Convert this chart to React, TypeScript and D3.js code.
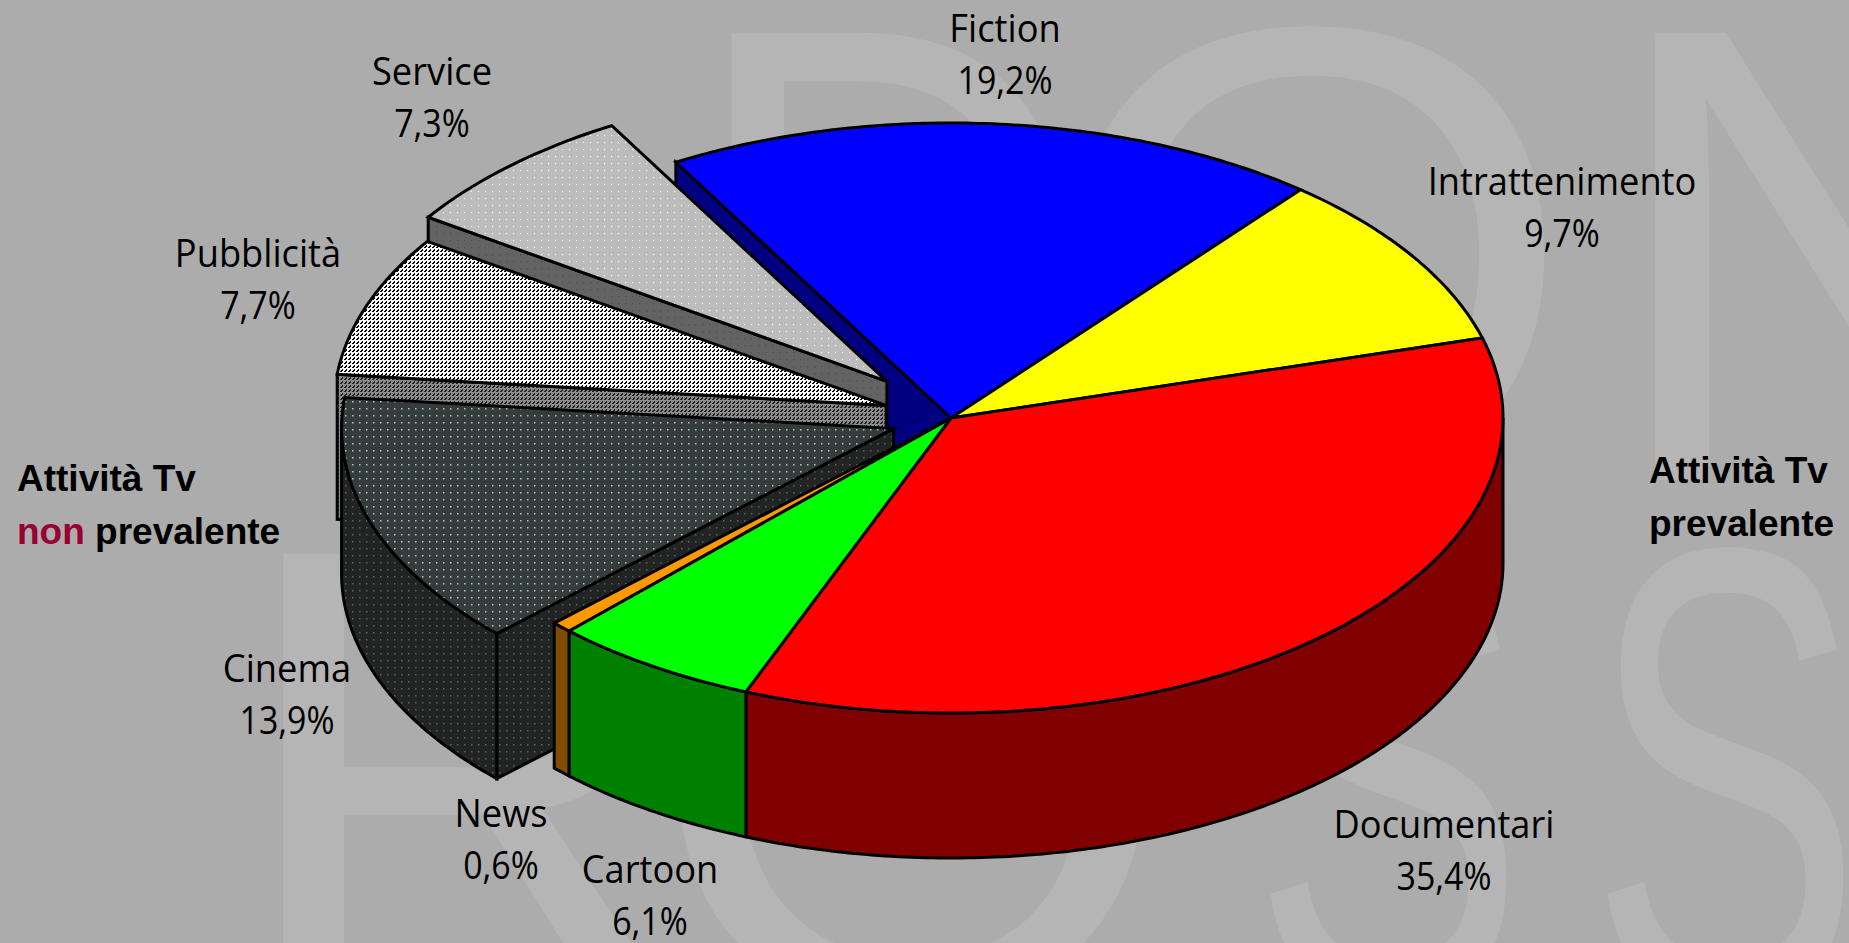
import React from "react";
import * as d3 from "d3";

// Share of production by genre, clockwise from the Fiction slice
const categories = ["Fiction", "Intrattenimento", "Documentari", "Cartoon", "News", "Cinema", "Pubblicità", "Service"];
const shares = [19.2, 9.7, 35.4, 6.1, 0.6, 13.9, 7.7, 7.3];
const shareLabels = ["19,2%", "9,7%", "35,4%", "6,1%", "0,6%", "13,9%", "7,7%", "7,3%"];
const topFills = ["#0000ff", "#ffff00", "#ff0000", "#00ff00", "#ff9900", "url(#cinemaTop)", "url(#pubTop)", "url(#serviceTop)"];
const sideFills = ["#000080", "#808000", "#800000", "#008000", "#804d00", "url(#cinemaSide)", "url(#pubSide)", "url(#serviceSide)"];
const explode = [0, 0, 0, 0, 0, 0.11, 0.125, 0.17];

const W = 1849;
const H = 943;
const CX = 951;
const CY = 418;
const RX = 552;
const RY = 295;
const DEPTH = 145;
const START_DEG = -29.9;

const labelPos: Record<string, [number, number]> = {
  Fiction: [1005, 42],
  Intrattenimento: [1562, 195],
  Documentari: [1444, 838],
  Cartoon: [650, 883],
  News: [501, 827],
  Cinema: [287, 682],
  "Pubblicità": [258, 267],
  Service: [432, 85],
};
const LINE_GAP = 52;

type Pt = [number, number];
const line = d3.line<Pt>().x((d) => d[0]).y((d) => d[1]);

function rim(cx: number, cy: number, a0: number, a1: number): Pt[] {
  const n = Math.max(2, Math.ceil(Math.abs(a1 - a0) * 80));
  return d3.range(n + 1).map((i) => {
    const a = a0 + ((a1 - a0) * i) / n;
    return [cx + RX * Math.sin(a), cy - RY * Math.cos(a)] as Pt;
  });
}
const down = (pts: Pt[]): Pt[] => pts.map(([x, y]) => [x, y + DEPTH] as Pt);
const closed = (pts: Pt[]) => line(pts) + "Z";

const arcs = d3
  .pie<number>()
  .sort(null)
  .startAngle((START_DEG * Math.PI) / 180)
  .endAngle((START_DEG * Math.PI) / 180 + 2 * Math.PI)(shares);

const slices = arcs.map((a, i) => {
  const mid = (a.startAngle + a.endAngle) / 2;
  return {
    i,
    a0: a.startAngle,
    a1: a.endAngle,
    cx: CX + explode[i] * RX * Math.sin(mid),
    cy: CY - explode[i] * RY * Math.cos(mid),
  };
});

type Slice = (typeof slices)[number];

// Part of the outer wall that faces the viewer: the front half of the ellipse
function outerWall(s: Slice) {
  const n = (v: number) => ((v % (2 * Math.PI)) + 2 * Math.PI) % (2 * Math.PI);
  const start = n(s.a0);
  const end = start + (s.a1 - s.a0);
  const lo = Math.max(start, Math.PI / 2);
  const hi = Math.min(end, (3 * Math.PI) / 2);
  if (hi <= lo) return null;
  const top = rim(s.cx, s.cy, lo, hi);
  return closed([...top, ...down(top).reverse()]);
}

// Cut face running from the slice apex out to the rim at the given angle
function cutWall(s: Slice, a: number) {
  const edge = rim(s.cx, s.cy, a, a + 1e-6)[0];
  const apex: Pt = [s.cx, s.cy];
  return closed([apex, edge, [edge[0], edge[1] + DEPTH], [apex[0], apex[1] + DEPTH]]);
}

function topFace(s: Slice) {
  return closed([[s.cx, s.cy], ...rim(s.cx, s.cy, s.a0, s.a1)]);
}

const stroke = { stroke: "#000", strokeWidth: 3, strokeLinejoin: "miter" as const };

function DotPattern({ id, bg, dot, dotSize = 1.3 }: { id: string; bg: string; dot: string; dotSize?: number }) {
  return (
    <pattern id={id} width={7} height={7} patternUnits="userSpaceOnUse">
      <rect width={7} height={7} fill={bg} />
      <rect x={2} y={2} width={dotSize} height={dotSize} fill={dot} />
    </pattern>
  );
}

// Short broken diagonal dashes, pixel by pixel
function HatchPattern({ id, bg, ink }: { id: string; bg: string; ink: string }) {
  const cells = [
    [0, 3],
    [1, 2],
    [2, 1],
    [1, 3],
    [2, 2],
  ];
  return (
    <pattern id={id} width={4} height={4} patternUnits="userSpaceOnUse">
      <rect width={4} height={4} fill={bg} />
      {cells.map(([x, y]) => (
        <rect key={`${x}-${y}`} x={x} y={y} width={1} height={1} fill={ink} shapeRendering="crispEdges" />
      ))}
    </pattern>
  );
}

// Oversized pale letters behind the chart
const backdropLetters: { ch: string; x: number; base: number; sx: number }[] = [
  { ch: "D", x: 685, base: 480, sx: 0.87 },
  { ch: "O", x: 1046, base: 480, sx: 1.05 },
  { ch: "N", x: 1602, base: 480, sx: 1 },
  { ch: "R", x: 230, base: 1001, sx: 1 },
  { ch: "O", x: 646, base: 1001, sx: 1.05 },
  { ch: "S", x: 1252, base: 1001, sx: 0.63 },
  { ch: "S", x: 1589, base: 1001, sx: 0.63 },
];

function Label({ x, y, sx, children }: { x: number; y: number; sx: number; children: React.ReactNode }) {
  return <text transform={`translate(${x},${y}) scale(${sx},1)`}>{children}</text>;
}

export default function App() {
  const [fiction, intrattenimento, documentari, cartoon, news, cinema, pubblicita, service] = slices;
  const front = [documentari, cartoon, news];
  return (
    <svg
      width={W}
      height={H}
      viewBox={`0 0 ${W} ${H}`}
      style={{ position: "fixed", left: 0, top: 0, display: "block" }}
    >
      <defs>
        <DotPattern id="serviceTop" bg="#bcbcbc" dot="#ffffff" dotSize={1.1} />
        <DotPattern id="serviceSide" bg="#636363" dot="#4e4e4e" />
        <HatchPattern id="pubTop" bg="#ffffff" ink="#000000" />
        <HatchPattern id="pubSide" bg="#8c8c8c" ink="#222222" />
        <DotPattern id="cinemaTop" bg="#363b3b" dot="#a8cccc" dotSize={1.5} />
        <DotPattern id="cinemaSide" bg="#222424" dot="#5a6464" dotSize={1.5} />
      </defs>

      <rect width={W} height={H} fill="#acacac" />
      <g fontFamily="'Liberation Sans'" fontSize={650} fill="#b5b5b5">
        {backdropLetters.map((l, i) => (
          <text key={i} transform={`translate(${l.x},${l.base}) scale(${l.sx},1)`}>
            {l.ch}
          </text>
        ))}
      </g>

      {/* back of the pie: the exposed cut face of Fiction */}
      <path d={cutWall(fiction, fiction.a0)} fill={sideFills[0]} {...stroke} />

      {/* detached slices, back to front */}
      {[service, pubblicita, cinema].map((s) => {
        const wall = outerWall(s);
        return (
          <g key={s.i}>
            <path d={cutWall(s, s.a0)} fill={sideFills[s.i]} {...stroke} />
            {wall && <path d={wall} fill={sideFills[s.i]} {...stroke} />}
            <path d={topFace(s)} fill={topFills[s.i]} {...stroke} />
          </g>
        );
      })}

      {/* attached slices */}
      {front.map((s) => {
        const wall = outerWall(s);
        return wall ? <path key={s.i} d={wall} fill={sideFills[s.i]} {...stroke} /> : null;
      })}
      {[fiction, intrattenimento, documentari, cartoon, news].map((s) => (
        <path key={s.i} d={topFace(s)} fill={topFills[s.i]} {...stroke} />
      ))}

      <g fontFamily="'Open Sans'" fontSize={39} fill="#000" textAnchor="middle">
        {categories.map((c, i) => (
          <g key={c}>
            <Label x={labelPos[c][0]} y={labelPos[c][1]} sx={0.93}>
              {c}
            </Label>
            <Label x={labelPos[c][0]} y={labelPos[c][1] + LINE_GAP} sx={0.87}>
              {shareLabels[i]}
            </Label>
          </g>
        ))}
      </g>

      <g fontFamily="'Liberation Sans'" fontWeight={700} fontSize={37} fill="#000">
        <text x={17} y={491}>Attività Tv</text>
        <text x={17} y={544}>
          <tspan fill="#990033">non</tspan> prevalente
        </text>
        <text x={1649} y={483}>Attività Tv</text>
        <text x={1649} y={536}>prevalente</text>
      </g>
    </svg>
  );
}
